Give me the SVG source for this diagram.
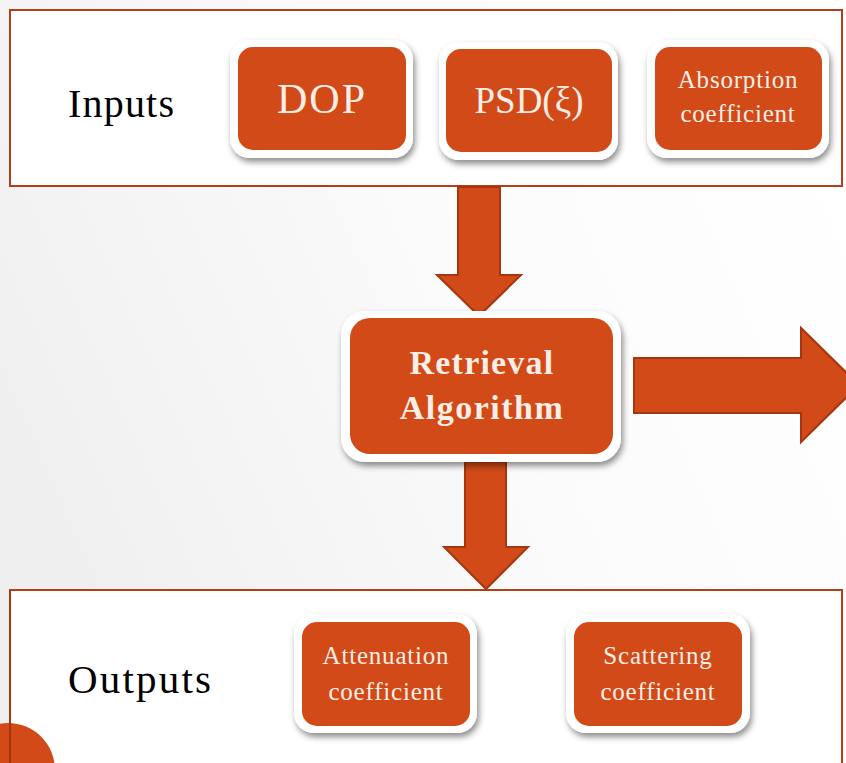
<svg xmlns="http://www.w3.org/2000/svg" width="846" height="763" viewBox="0 0 846 763">
<defs>
<linearGradient id="bg" x1="0" y1="0.6" x2="1" y2="0.2">
<stop offset="0" stop-color="#efefef"/>
<stop offset="0.55" stop-color="#fbfbfb"/>
<stop offset="1" stop-color="#ffffff"/>
</linearGradient>
<filter id="sh" x="-10%" y="-10%" width="125%" height="130%">
<feDropShadow dx="2" dy="4" stdDeviation="3" flood-color="#000" flood-opacity="0.45"/>
</filter>
<style>
.frame{fill:#ffffff;stroke:#b13f17;stroke-width:2}
.outer{fill:#ffffff;filter:url(#sh)}
.inner{fill:#d24a18}
.arrow{fill:#d24a18;stroke:#a5360f;stroke-width:2;stroke-linejoin:miter}
.lbl{font-family:"Liberation Serif","DejaVu Serif",serif;fill:#000000;font-size:40px;letter-spacing:1.2px}
.t{font-family:"Liberation Serif","DejaVu Serif",serif;fill:#fbeee6;text-anchor:middle}
.s{font-size:25px;letter-spacing:0.8px}
</style>
</defs>
<rect width="846" height="763" fill="url(#bg)"/>

<g id="inputs-frame">
<rect class="frame" x="10" y="10" width="832" height="176"/>
<text class="lbl" x="68" y="117">Inputs</text>
</g>
<g id="outputs-frame">
<rect class="frame" x="10" y="590" width="832" height="190"/>
<text class="lbl" x="68" y="693" style="font-size:41px;letter-spacing:2.2px">Outputs</text>
</g>

<g id="connectors">
<path class="arrow" d="M458,187 L500,187 L500,275 L521,275 L479,316 L437,275 L458,275 Z"/>
<path class="arrow" d="M465,461 L506,461 L506,547 L528,547 L486,589 L444,547 L465,547 Z"/>
<path class="arrow" d="M634,358 L801,358 L801,328 L859,385 L801,442 L801,413 L634,413 Z"/>
</g>

<g id="node-dop">
<rect class="outer" x="230" y="40" width="183" height="118" rx="20"/>
<rect class="inner" x="238" y="47" width="168" height="103" rx="15"/>
<text class="t" x="322" y="113" font-size="42" letter-spacing="2">DOP</text>
</g>
<g id="node-psd">
<rect class="outer" x="439" y="42" width="179" height="118" rx="20"/>
<rect class="inner" x="446" y="49" width="166" height="103" rx="15"/>
<text class="t" x="529" y="113" font-size="37">PSD(ξ)</text>
</g>
<g id="node-absorption">
<rect class="outer" x="647" y="40" width="182" height="118" rx="20"/>
<rect class="inner" x="655" y="47" width="167" height="103" rx="15"/>
<text class="t s" x="738" y="88">Absorption</text>
<text class="t s" x="738" y="122">coefficient</text>
</g>

<g id="node-retrieval">
<rect class="outer" x="341" y="311" width="280" height="151" rx="24"/>
<rect class="inner" x="350" y="318" width="263" height="136" rx="20"/>
<text class="t" x="482" y="374" font-size="34" font-weight="bold" letter-spacing="1.2">Retrieval</text>
<text class="t" x="482" y="419" font-size="34" font-weight="bold" letter-spacing="1.5">Algorithm</text>
</g>

<g id="node-attenuation">
<rect class="outer" x="294" y="614" width="183" height="119" rx="20"/>
<rect class="inner" x="302" y="622" width="168" height="104" rx="15"/>
<text class="t s" x="386" y="664">Attenuation</text>
<text class="t s" x="386" y="700">coefficient</text>
</g>
<g id="node-scattering">
<rect class="outer" x="566" y="614" width="184" height="119" rx="20"/>
<rect class="inner" x="574" y="622" width="168" height="104" rx="15"/>
<text class="t s" x="658" y="664">Scattering</text>
<text class="t s" x="658" y="700">coefficient</text>
</g>

<g id="page-badge">
<circle cx="8" cy="770" r="47" fill="#d24a18"/>
<line x1="10" y1="590" x2="10" y2="763" stroke="#a5360f" stroke-width="2"/>
</g>
</svg>
